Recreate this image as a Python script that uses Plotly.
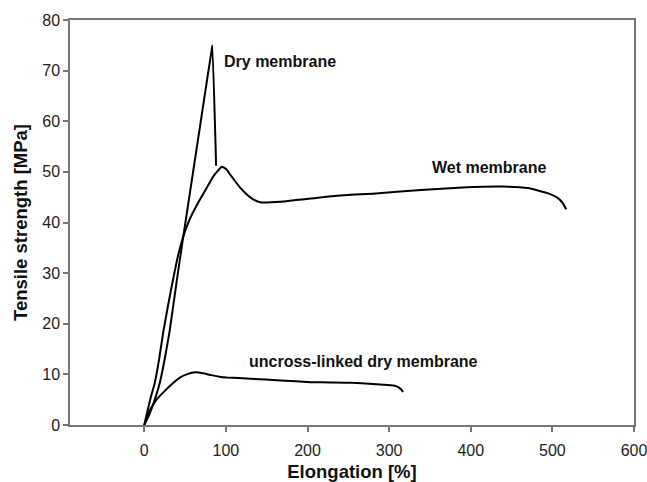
import plotly.graph_objects as go

# Stress–strain curves (elongation in %, tensile strength in MPa)
dry_x = [0, 6, 12, 18.8, 25, 31, 40, 47.5, 58.5, 70, 78, 82, 83.4, 88]
dry_y = [0, 2, 4.6, 8.2, 13, 18.5, 28.7, 36.9, 48.6, 60.8, 69.3, 73.4, 75, 51.2]

wet_x = [0, 4, 8, 12.7, 18, 23, 29, 35.2, 41, 47.5, 55, 65, 75, 85, 95, 100, 105.5,
         112, 118, 126, 134, 142, 167, 208, 236, 280, 339, 390, 437, 470, 494, 505, 512, 517]
wet_y = [0, 2.8, 5.5, 8.2, 12.8, 18.1, 23.5, 28.7, 33.2, 37.1, 40.4, 43.6, 46.4, 49.2, 51, 50.6, 49.4,
         48, 46.8, 45.5, 44.5, 44, 44.1, 44.8, 45.3, 45.7, 46.4, 46.9, 47.1, 46.8, 45.8, 45, 44, 42.6]

uncl_x = [0, 5, 10, 16, 23.7, 30, 36, 44, 52, 62.6, 72, 82, 92, 101, 130, 167, 204,
          228, 253, 280, 298, 308, 312, 315, 317]
uncl_y = [0, 2.3, 3.8, 5.2, 6.5, 7.5, 8.4, 9.4, 10, 10.4, 10.2, 9.85, 9.55, 9.4, 9.15, 8.8, 8.45,
          8.4, 8.35, 8.1, 7.9, 7.7, 7.4, 7.0, 6.5]

x_ticks = [0, 100, 200, 300, 400, 500, 600]
y_ticks = [0, 10, 20, 30, 40, 50, 60, 70, 80]

FONT = "Liberation Sans, Arial, sans-serif"

fig = go.Figure()
for xs, ys in [(dry_x, dry_y), (wet_x, wet_y), (uncl_x, uncl_y)]:
    fig.add_trace(go.Scatter(
        x=xs, y=ys, mode="lines",
        line=dict(color="black", width=2, shape="spline", smoothing=0.4),
        showlegend=False, hoverinfo="skip",
    ))

labels = [
    ("Dry membrane", 95.7, 71.9),
    ("Wet membrane", 350, 50.8),
    ("uncross-linked dry membrane", 126, 12.5),
]
for text, lx, ly in labels:
    fig.add_annotation(
        x=lx, y=ly, text=text, showarrow=False, xanchor="left", yanchor="middle",
        font=dict(family=FONT, size=16, color="#111", weight="bold"),
    )

axis_common = dict(
    showgrid=False, zeroline=False, showline=True, linecolor="#777", linewidth=1.5,
    mirror=True, ticks="outside", ticklen=5, tickwidth=1.5, tickcolor="#777",
    tickfont=dict(family=FONT, size=16, color="#222"), automargin=False,
    ticklabeloverflow="allow",
)

fig.update_layout(
    width=647, height=482,
    margin=dict(l=70, r=13, t=20, b=57),
    paper_bgcolor="white", plot_bgcolor="white",
    xaxis=dict(
        range=[-91, 600], tickvals=x_ticks, ticklabelstandoff=5,
        title=dict(text="Elongation [%]", standoff=10,
                   font=dict(family=FONT, size=18.5, color="#111", weight="bold")),
        **axis_common,
    ),
    yaxis=dict(
        range=[0, 80], tickvals=y_ticks,
        title=dict(text="Tensile strength [MPa]", standoff=10,
                   font=dict(family=FONT, size=18.5, color="#111", weight="bold")),
        **axis_common,
    ),
)

fig.write_html("out.html")
